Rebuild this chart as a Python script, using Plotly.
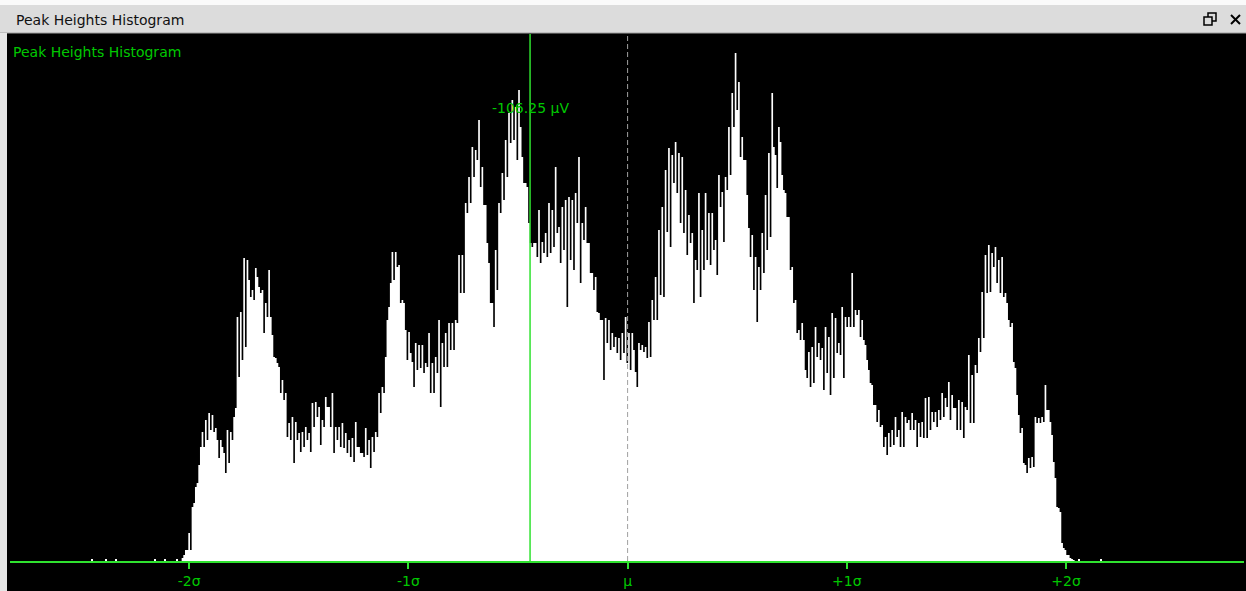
import numpy as np
import plotly.graph_objects as go

# ---------------- data ----------------
TITLE = "Peak Heights Histogram"
TICK_VALS = [-2, -1, 0, 1, 2]
TICK_TEXT = ["-2σ", "-1σ", "μ", "+1σ", "+2σ"]
CURSOR_SIGMA = -0.445
CURSOR_LABEL = "-106.25 µV"
MEAN_SIGMA = 0.0

# histogram bins (in sigma units): first bin start and bin width
BIN_START = -2.0344
BIN_WIDTH = 0.0076

# counts per bin, left (-2σ) to right (+2σ)
counts_left = [
    3, 6, 11, 11, 28, 11, 54, 58, 74, 78, 96, 114, 129, 114, 141, 121, 148, 131, 146, 129,
    133, 121, 103, 121, 114, 108, 88, 131, 98, 129, 121, 144, 153, 244, 184, 249, 201, 303, 214, 301,
    281, 264, 271, 261, 293, 284, 274, 268, 271, 228, 258, 244, 291, 244, 226, 204, 203, 198, 194, 168,
    181, 161, 168, 124, 138, 121, 144, 98, 139, 121, 128, 109, 129, 114, 134, 121, 128, 109, 158, 134,
    159, 144, 154, 116, 141, 134, 164, 154, 154, 134, 168, 108, 134, 121, 134, 114, 138, 113, 128, 108,
    121, 104, 123, 99, 139, 114, 114, 108, 108, 104, 133, 106, 121, 93, 124, 109, 129, 124, 168, 148,
]
counts_mid_left = [
    174, 168, 204, 241, 254, 278, 309, 281, 309, 294, 296, 258, 261, 258, 231, 201, 229, 208, 199, 174,
    218, 191, 216, 193, 216, 188, 198, 194, 228, 168, 198, 168, 204, 188, 241, 154, 218, 194, 228, 194,
    238, 211, 238, 211, 241, 238, 306, 268, 306, 268, 358, 348, 384, 358, 414, 384, 411, 401, 441, 374,
    394, 356, 356, 318, 298, 258, 258, 234, 311, 271, 358, 348, 388, 361, 421, 384, 448, 418, 461, 421,
    454, 401, 471, 434, 404, 378, 378, 374, 338, 318, 314, 318, 318, 304, 351, 298, 319, 308, 328, 304,
    358, 308, 351, 314, 394, 328, 334, 298, 354, 311, 361, 254, 364, 301, 361, 291, 368, 338, 404, 278,
    338, 321, 354, 318, 318, 288, 288, 271, 284, 249, 248, 241, 241, 181, 243, 218, 241, 211, 228, 214,
    224, 208, 223, 201, 228, 208, 244, 198,
]
counts_mid_right = [
    228, 191, 228, 211, 189, 174, 218, 211, 216, 209, 214, 203, 239, 204, 261, 241, 284, 241, 331, 266,
    354, 264, 391, 329, 413, 314, 406, 378, 419, 368, 408, 338, 404, 328, 371, 306, 346, 318, 328, 258,
    301, 291, 368, 264, 331, 291, 368, 301, 348, 296, 348, 311, 321, 286, 386, 354, 369, 319, 384, 371,
    434, 386, 468, 434, 508, 451, 479, 404, 424, 401, 401, 366, 333, 304, 326, 271, 304, 239, 294, 271,
    328, 288, 366, 311, 408, 324, 468, 414, 406, 373, 434, 419, 386, 371, 368, 344, 344, 291, 294, 258,
    261, 228, 231, 221, 238, 221, 191, 183, 209, 174, 214, 178, 234, 204, 218, 201, 213, 171, 234, 188,
    224, 166, 248, 183, 243, 208, 218, 206, 254, 183, 244, 234, 244, 234, 288, 234,
]
counts_right = [
    251, 246, 251, 224, 241, 221, 216, 201, 191, 178, 176, 156, 156, 139, 151, 134, 136, 114, 124, 106,
    128, 114, 131, 116, 144, 124, 131, 114, 149, 114, 144, 138, 141, 131, 148, 131, 141, 114, 138, 124,
    139, 123, 163, 123, 164, 131, 149, 139, 149, 134, 151, 141, 168, 144, 163, 154, 179, 141, 166, 153,
    153, 131, 161, 131, 159, 123, 154, 151, 206, 138, 186, 138, 196, 188, 223, 209, 269, 223, 306, 268,
    316, 269, 308, 294, 314, 278, 301, 268, 304, 264, 268, 258, 241, 234, 238, 199, 193, 166, 146, 128,
    133, 98, 96, 88, 103, 93, 104, 94, 144, 138, 143, 138, 144, 139, 176, 151, 151, 139, 126, 99,
    83, 54, 53, 49, 18, 13, 11, 6, 6, 3, 2, 1,
]

# isolated outlier bins in the tails
speck_sigma = [-2.443, -2.380, -2.334, -2.156, -2.111, -2.056, 2.059, 2.160]
speck_counts = [2, 2, 2, 2, 2, 2, 2, 2]

# ---------------- styling ----------------
GREEN_TXT = "#00c800"
GREEN_LINE = "#2fe22f"
FONT = "DejaVu Sans"
W, H = 1246, 591
ML, MR, MT, MB = 10, 2, 34, 30
PW, PH = W - ML - MR, H - MT - MB
X_RANGE = [-2.8175, 2.8120]
Y_RANGE = [0, PH]


def px2x(px):
    return (px - ML) / PW


def px2y(py):
    return (H - MB - py) / PH


counts = np.array(counts_left + counts_mid_left + counts_mid_right + counts_right, dtype=float)
edges = BIN_START + BIN_WIDTH * np.arange(len(counts) + 1)
step_y = np.append(counts, 0.0)

fig = go.Figure()
fig.add_trace(go.Scatter(
    x=edges, y=step_y, mode="lines", line=dict(shape="hv", width=0, color="white"),
    fill="tozeroy", fillcolor="white", hoverinfo="skip",
))
fig.add_trace(go.Bar(
    x=speck_sigma, y=speck_counts, width=BIN_WIDTH, marker=dict(color="white", line=dict(width=0)),
))

shapes = [
    # window chrome
    dict(type="rect", xref="paper", yref="paper", x0=px2x(-5), x1=px2x(W + 5), y0=px2y(5), y1=px2y(-5),
         fillcolor="#fafafa", line=dict(width=0), layer="above"),
    dict(type="rect", xref="paper", yref="paper", x0=px2x(-5), x1=px2x(W + 5), y0=px2y(33), y1=px2y(5),
         fillcolor="#dcdcdc", line=dict(width=0), layer="above"),
    dict(type="line", xref="paper", yref="paper", x0=px2x(0), x1=px2x(W), y0=px2y(33), y1=px2y(33),
         line=dict(color="#a0a0a0", width=1), layer="above"),
    dict(type="rect", xref="paper", yref="paper", x0=px2x(-5), x1=px2x(7), y0=px2y(H + 5), y1=px2y(33),
         fillcolor="#e6e6e6", line=dict(width=0), layer="above"),
    # restore icon
    dict(type="rect", xref="paper", yref="paper", x0=px2x(1208), x1=px2x(1216), y0=px2y(21), y1=px2y(13),
         fillcolor="#dcdcdc", line=dict(color="black", width=1.5), layer="above"),
    dict(type="rect", xref="paper", yref="paper", x0=px2x(1204), x1=px2x(1212), y0=px2y(25), y1=px2y(17),
         fillcolor="#dcdcdc", line=dict(color="black", width=1.5), layer="above"),
    # close icon
    dict(type="line", xref="paper", yref="paper", x0=px2x(1231), x1=px2x(1240), y0=px2y(15), y1=px2y(24),
         line=dict(color="black", width=2), layer="above"),
    dict(type="line", xref="paper", yref="paper", x0=px2x(1231), x1=px2x(1240), y0=px2y(24), y1=px2y(15),
         line=dict(color="black", width=2), layer="above"),
    # mean (dashed) and cursor lines
    dict(type="line", xref="x", yref="paper", x0=MEAN_SIGMA, x1=MEAN_SIGMA, y0=0, y1=1,
         line=dict(color="#a0a0a0", width=1, dash="5px,3px"), layer="above"),
    dict(type="line", xref="x", yref="paper", x0=CURSOR_SIGMA, x1=CURSOR_SIGMA, y0=0, y1=1,
         line=dict(color=GREEN_LINE, width=1.5), layer="above"),
]

annotations = [
    dict(text=TITLE, xref="paper", yref="paper", x=px2x(14), y=px2y(20), xanchor="left", yanchor="middle",
         showarrow=False, font=dict(family=FONT, size=14, color="#111111")),
    dict(text=TITLE, xref="paper", yref="paper", x=px2x(11), y=px2y(52), xanchor="left", yanchor="middle",
         showarrow=False, font=dict(family=FONT, size=14, color=GREEN_TXT)),
    dict(text=CURSOR_LABEL, xref="x", yref="paper", x=CURSOR_SIGMA, y=px2y(108), xanchor="center",
         yanchor="middle", showarrow=False, font=dict(family=FONT, size=14, color=GREEN_TXT)),
]

fig.update_layout(
    width=W, height=H, margin=dict(l=ML, r=MR, t=MT, b=MB, pad=0),
    paper_bgcolor="black", plot_bgcolor="black", showlegend=False, bargap=0,
    shapes=shapes, annotations=annotations,
    xaxis=dict(range=X_RANGE, tickvals=TICK_VALS, ticktext=TICK_TEXT, ticks="outside", ticklen=6,
               tickwidth=1.5, tickcolor=GREEN_LINE, tickfont=dict(family=FONT, size=14, color=GREEN_TXT),
               showgrid=False, zeroline=False, showline=True, linecolor=GREEN_LINE, linewidth=2,
               fixedrange=True),
    yaxis=dict(range=Y_RANGE, visible=False, showgrid=False, zeroline=False, fixedrange=True),
)

fig.write_html("out.html", config={"displayModeBar": False})
